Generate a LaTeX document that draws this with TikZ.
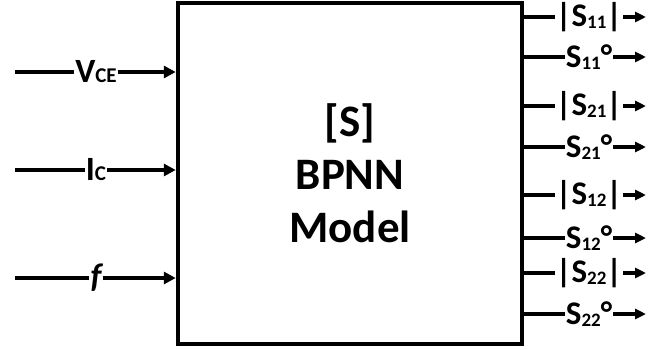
\documentclass[tikz,border=0pt]{standalone}
\usepackage{fontspec}
\setmainfont{Carlito}
\usetikzlibrary{arrows.meta,positioning}

\newcommand{\insub}[1]{{\fontsize{21}{21}\selectfont #1}}
\newcommand{\outsub}[1]{\raisebox{-2pt}{\fontsize{19}{19}\selectfont #1}}

\tikzset{
  inlbl/.style={font=\bfseries\fontsize{34}{34}\selectfont, inner sep=1pt},
  outlbl/.style={font=\bfseries\fontsize{33}{33}\selectfont, inner sep=1pt},
  wire/.style={line width=3.5pt},
  insig/.style={wire,-{Triangle[length=12pt,width=12pt]}},
  outsig/.style={wire,-{Triangle[length=11pt,width=10pt]}},
}

\begin{document}
\begin{tikzpicture}[x=1pt,y=-1pt]
  \useasboundingbox (0,0) rectangle (649,349);
  % block
  \node[draw,line width=4.5pt,minimum width=344pt,minimum height=341pt,inner sep=0pt,
        align=center,font=\bfseries\fontsize{45}{53}\selectfont] (model) at (350,173.5)
        {[S]\\BPNN\\Model};
  % inputs
  \foreach \name/\txt/\y in {vce/{V\insub{CE}}/72, ic/{I\insub{C}}/170, freq/{\itshape f}/278}{
    \coordinate (\name-s) at (15,\y);
    \node[inlbl] (\name) at (96,\y) {\txt};
    \draw[wire] (\name-s) -- (\name);
    \draw[insig] (\name) -- (\name -| model.west);
  }
  % outputs
  \foreach \name/\txt/\y in {
      m11/{|S\outsub{11}|}/17, p11/{S\outsub{11}°}/57,
      m21/{|S\outsub{21}|}/106, p21/{S\outsub{21}°}/147,
      m12/{|S\outsub{12}|}/195, p12/{S\outsub{12}°}/238,
      m22/{|S\outsub{22}|}/273, p22/{S\outsub{22}°}/314}{
    \node[outlbl] (\name) at (589,\y) {\txt};
    \coordinate (\name-e) at (646,\y);
    \draw[wire] (\name -| model.east) -- (\name);
    \draw[outsig] (\name) -- (\name-e);
  }
\end{tikzpicture}
\end{document}
